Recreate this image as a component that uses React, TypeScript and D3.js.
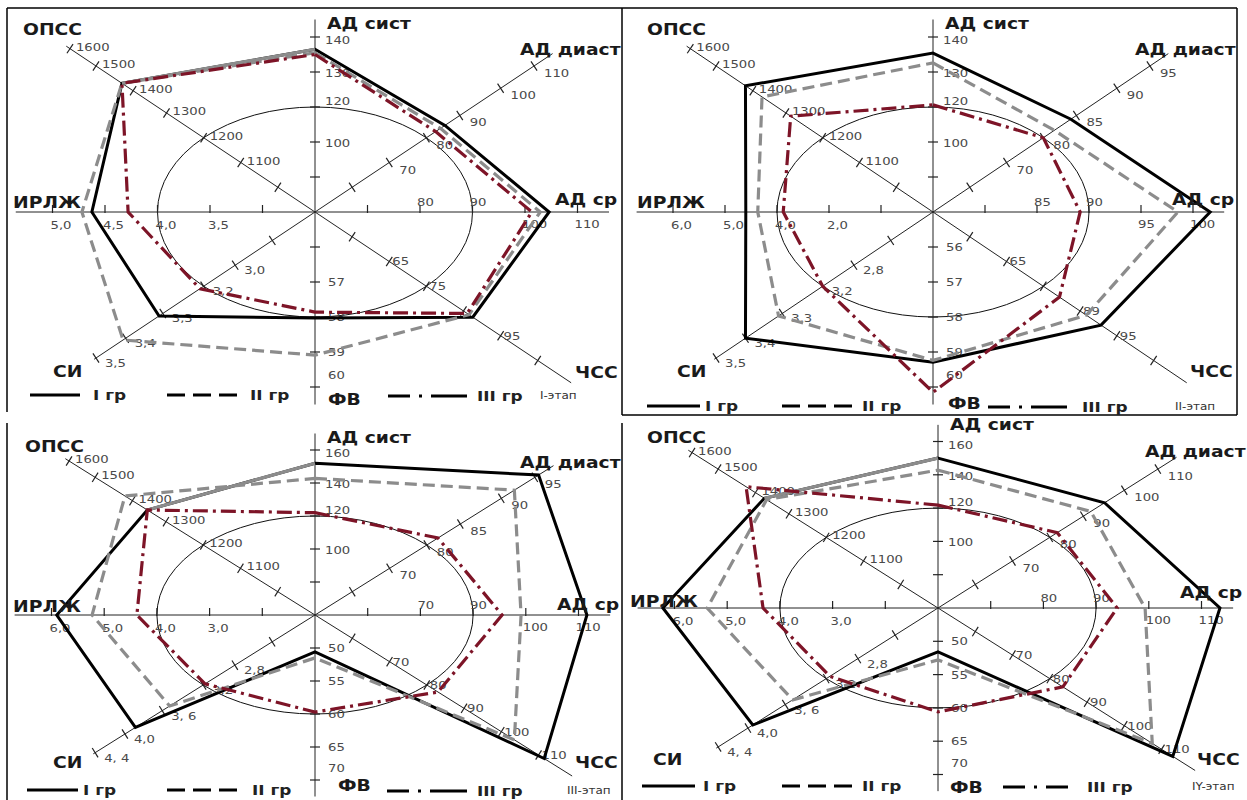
import React from "react";
import * as d3 from "d3";

// ---------- categories ----------
const axisNames = ["АД сист", "АД диаст", "АД ср", "ЧСС", "ФВ", "СИ", "ИРЛЖ", "ОПСС"];
const axisAnglesDeg = [90, 45, 0, -45, -90, -135, 180, 135];
const groupNames = ["I гр", "II гр", "III гр"];
const stageNames = ["I-этап", "II-этап", "III-этап", "IY-этап"];

// ---------- series values (radial chart units, reference circle = 3) ----------
// order: АД сист, АД диаст, АД ср, ЧСС, ФВ, СИ, ИРЛЖ, ОПСС
const stage1GroupI = [4.65, 3.5, 4.46, 4.25, 3.03, 4.2, 4.25, 5.2];
const stage1GroupII = [4.55, 3.38, 4.29, 4.15, 4.09, 5.17, 4.44, 5.2];
const stage1GroupIII = [4.5, 3.25, 4.13, 4.1, 2.86, 3.1, 3.56, 5.2];

const stage2GroupI = [4.54, 3.75, 5.33, 4.57, 4.29, 5.1, 3.6, 5.1];
const stage2GroupII = [4.26, 3.3, 4.71, 4.17, 4.24, 4.2, 3.37, 4.65];
const stage2GroupIII = [3.06, 3.0, 2.83, 3.44, 5.15, 3.0, 2.88, 3.87];

const stage3GroupI = [4.6, 6.0, 5.16, 6.15, 1.12, 4.82, 4.9, 4.5];
const stage3GroupII = [4.14, 5.35, 3.91, 5.35, 1.3, 3.9, 4.23, 5.1];
const stage3GroupIII = [3.1, 3.3, 3.55, 3.3, 2.94, 2.95, 3.38, 4.5];

const stage4GroupI = [4.5, 4.47, 5.35, 6.3, 1.32, 4.97, 5.22, 4.66];
const stage4GroupII = [4.14, 4.1, 3.93, 5.75, 1.56, 3.9, 4.38, 4.6];
const stage4GroupIII = [3.09, 3.2, 3.4, 3.35, 3.12, 2.9, 3.32, 5.15];

// ---------- ticks ----------
const tickPositions = [
  [1, 2, 3, 4, 5],
  [1, 2, 3, 3.9, 5, 5.9],
  [1, 2, 3, 4, 5],
  [1, 2, 3, 4, 5, 6],
  [1, 2, 3, 4, 5],
  [1.15, 2.15, 3, 4.1, 5.1, 5.9],
  [1, 2, 3, 4, 5],
  [1, 2, 3, 4, 4.9, 5.9, 6.6],
];
const labelPositions = [
  [5, 4, 3.2, 2],
  [2, 3, 3.9, 5, 5.9],
  [2, 3, 4, 5],
  [2, 3, 4, 5, 6],
  [1, 2, 3, 4, 5],
  [2.15, 3, 4.1, 5.1, 5.9],
  [2, 3, 4, 5],
  [2, 3, 4, 4.9, 5.9, 6.6],
];
const opssLabels = ["1100", "1200", "1300", "1400", "1500", "1600"];
const stage1Labels = [
  ["140", "130", "120", "100"],
  ["70", "80", "90", "100", "110"],
  ["80", "90", "100", "110"],
  ["65", "75", "", "95", ""],
  ["", "57", "58", "59", "60"],
  ["3,0", "3,2", "3,3", "3,4", "3,5"],
  ["3,5", "4,0", "4,5", "5,0"],
  opssLabels,
];
const stage2Labels = [
  ["140", "130", "120", "100"],
  ["70", "80", "85", "90", "95"],
  ["85", "90", "95", "100"],
  ["65", "", "89", "95", ""],
  ["56", "57", "58", "59", "60"],
  ["2,8", "3,2", "3,3", "3,4", "3,5"],
  ["2,0", "4,0", "5,0", "6,0"],
  opssLabels,
];
const stage3Labels = [
  ["160", "140", "120", "100"],
  ["70", "80", "85", "90", "95"],
  ["70", "90", "100", "110"],
  ["70", "80", "90", "100", "110"],
  ["50", "55", "60", "65", "70"],
  ["2,8", "3,2", "3, 6", "4,0", "4, 4"],
  ["3,0", "4,0", "5,0", "6,0"],
  opssLabels,
];
const stage4Labels = [
  ["160", "140", "120", "100"],
  ["70", "80", "90", "100", "110"],
  ["80", "90", "100", "110"],
  ["70", "80", "90", "100", "110"],
  ["50", "55", "60", "65", "70"],
  ["2,8", "3,2", "3, 6", "4,0", "4, 4"],
  ["3,0", "4,0", "5,0", "6,0"],
  opssLabels,
];

const stageSeries = [
  [stage1GroupI, stage1GroupII, stage1GroupIII],
  [stage2GroupI, stage2GroupII, stage2GroupIII],
  [stage3GroupI, stage3GroupII, stage3GroupIII],
  [stage4GroupI, stage4GroupII, stage4GroupIII],
];
const stageLabels = [stage1Labels, stage2Labels, stage3Labels, stage4Labels];

// ---------- layout (not data) ----------
const axisExtent = [5.5, 6.4, 5.6, 6.9, 5.5, 5.95, 5.7, 6.7];
const panels = [
  {
    cx: 315, cy: 212, ux: 52.5, uy: 35, left: 7, legendY: 395, grayTopEdge: true,
    titles: [[12, -183], [205, -157], [240, -7], [260, 166], [13, 193], [-262, 165], [-302, -4], [-292, -177]],
    legend: [23, 73, 86, 160, 231, 243, 381, 460, 470, 533],
  },
  {
    cx: 933, cy: 212, ux: 52, uy: 35, left: 623, legendY: 406, grayTopEdge: false,
    titles: [[12, -183], [202, -157], [239, -7], [257, 165], [15, 197], [-256, 165], [-296, -4], [-286, -177]],
    legend: [24, 77, 82, 159, 232, 239, 365, 444, 459, 552],
  },
  {
    cx: 315, cy: 615, ux: 52.7, uy: 33, left: 7, legendY: 790, grayTopEdge: true,
    titles: [[12, -172], [205, -147], [242, -5], [260, 153], [23, 176], [-262, 153], [-302, -3], [-290, -163]],
    legend: [20, 71, 76, 160, 230, 245, 380, 460, 470, 560],
  },
  {
    cx: 938, cy: 608, ux: 52.7, uy: 33.3, left: 623, legendY: 786, grayTopEdge: true,
    titles: [[12, -178], [207, -151], [242, -10], [259, 157], [12, 185], [-285, 157], [-308, -1], [-291, -165]],
    legend: [19, 72, 80, 159, 232, 239, 380, 445, 464, 569],
  },
];

const BLACK = "#000000";
const GRAY = "#8c8c8c";
const RED = "#7d1427";
const seriesStyle = [
  { stroke: BLACK, dash: "none", width: 3 },
  { stroke: GRAY, dash: "12,6", width: 3.2 },
  { stroke: RED, dash: "15,5,3,5", width: 3.2 },
];
const FONT = "'DejaVu Sans', Verdana, sans-serif";
const SX = 1.2;

function T(props: {
  x: number; y: number; size: number; weight?: string; fill?: string;
  anchor?: string; children: React.ReactNode; sx?: number;
}) {
  const { x, y, size, weight = "normal", fill = "#222", anchor = "start", children, sx = SX } = props;
  return (
    <text
      transform={`translate(${x},${y}) scale(${sx},1)`}
      fontSize={size}
      fontWeight={weight}
      fill={fill}
      textAnchor={anchor}
      fontFamily={FONT}
    >
      {children}
    </text>
  );
}

function labelOffset(axis: number, r: number): [number, number] {
  switch (axis) {
    case 0: return [10, r >= 5 ? 7 : 5];
    case 1: return [10, 11];
    case 2: return [-3, r <= 3 ? -6 : 16];
    case 3: return [3, 4];
    case 4: return [13, r >= 5 ? -8 : 4];
    case 5: return [9, 9];
    case 6: return [-2, 17];
    default: return [6, 2];
  }
}

function Panel({ idx }: { idx: number }) {
  const cfg = panels[idx];
  const series = stageSeries[idx];
  const labels = stageLabels[idx];
  const xs = d3.scaleLinear().domain([0, 1]).range([cfg.cx, cfg.cx + cfg.ux]);
  const ys = d3.scaleLinear().domain([0, 1]).range([cfg.cy, cfg.cy - cfg.uy]);
  const ang = axisAnglesDeg.map((a) => (a * Math.PI) / 180);
  const pt = (i: number, r: number): [number, number] => [
    xs(r * Math.cos(ang[i])),
    ys(r * Math.sin(ang[i])),
  ];
  const closed = d3.line<[number, number]>().curve(d3.curveLinearClosed);
  const open = d3.line<[number, number]>();

  const elements: React.ReactNode[] = [];

  // reference circle (r = 3)
  elements.push(
    <ellipse key="circle" cx={cfg.cx} cy={cfg.cy} rx={xs(3) - cfg.cx} ry={cfg.cy - ys(3)}
      fill="none" stroke="#111" strokeWidth={1} />
  );

  // axes, ticks, tick labels
  axisNames.forEach((_, i) => {
    const [ex, ey] = pt(i, axisExtent[i]);
    elements.push(
      <line key={`ax${i}`} x1={cfg.cx} y1={cfg.cy} x2={ex} y2={ey} stroke="#222" strokeWidth={1} />
    );
    const dxs = cfg.ux * Math.cos(ang[i]);
    const dys = -cfg.uy * Math.sin(ang[i]);
    const len = Math.hypot(dxs, dys);
    const px = -dys / len, py = dxs / len;
    tickPositions[i].forEach((r, k) => {
      const [tx, ty] = pt(i, r);
      if (i === 2 || i === 6) {
        elements.push(<line key={`t${i}-${k}`} x1={tx} y1={ty - 7} x2={tx} y2={ty + 1} stroke="#222" strokeWidth={1.2} />);
      } else {
        const h = i === 0 || i === 4 ? 5 : 5.5;
        elements.push(
          <line key={`t${i}-${k}`} x1={tx - px * h} y1={ty - py * h} x2={tx + px * h} y2={ty + py * h}
            stroke="#222" strokeWidth={1.2} />
        );
      }
    });
    labelPositions[i].forEach((r, k) => {
      const txt = labels[i][k];
      if (!txt) return;
      const [tx, ty] = pt(i, r);
      const [ox, oy] = labelOffset(i, r);
      elements.push(
        <T key={`l${i}-${k}`} x={tx + ox} y={ty + oy} size={11} fill="#4a4a4a">{txt}</T>
      );
    });
  });

  // series polygons
  series.forEach((vals, s) => {
    const pts = vals.map((v, i) => pt(i, v));
    const st = seriesStyle[s];
    elements.push(
      <path key={`s${s}`} d={closed(pts) || ""} fill="none" stroke={st.stroke}
        strokeWidth={st.width} strokeDasharray={st.dash} strokeLinejoin="miter" />
    );
    if (s === 0 && cfg.grayTopEdge) {
      elements.push(
        <path key="s0gray" d={open([pts[7], pts[0]]) || ""} fill="none" stroke={GRAY} strokeWidth={3.2} />
      );
    }
  });

  // axis titles
  axisNames.forEach((name, i) => {
    const [ox, oy] = cfg.titles[i];
    elements.push(
      <T key={`title${i}`} x={cfg.cx + ox} y={cfg.cy + oy} size={15} weight="bold" fill="#1a1a1a" sx={1.25}>{name}</T>
    );
  });

  // legend
  const L = cfg.legend.map((v) => v + cfg.left);
  const ly = cfg.legendY;
  elements.push(<line key="lg1" x1={L[0]} y1={ly} x2={L[1]} y2={ly} stroke={BLACK} strokeWidth={3} />);
  elements.push(<T key="lt1" x={L[2]} y={ly + 5} size={13.5} weight="bold" sx={1.25}>{groupNames[0]}</T>);
  elements.push(<line key="lg2" x1={L[3]} y1={ly} x2={L[4]} y2={ly} stroke={BLACK} strokeWidth={3} strokeDasharray="18,8" />);
  elements.push(<T key="lt2" x={L[5]} y={ly + 5} size={13.5} weight="bold" sx={1.25}>{groupNames[1]}</T>);
  elements.push(<line key="lg3" x1={L[6]} y1={ly + 1} x2={L[7]} y2={ly + 1} stroke={BLACK} strokeWidth={3} strokeDasharray="22,9,3,9,40" />);
  elements.push(<T key="lt3" x={L[8]} y={ly + 6} size={13.5} weight="bold" sx={1.25}>{groupNames[2]}</T>);
  elements.push(<T key="stage" x={L[9]} y={ly + 4} size={10} fill="#333" sx={1.2}>{stageNames[idx]}</T>);

  return <g>{elements}</g>;
}

export default function App() {
  const borders: [number, number, number, number][] = [
    [7, 8, 1237, 8],
    [7, 8, 7, 412],
    [622, 8, 622, 415],
    [1237, 8, 1237, 415],
    [622, 415, 1237, 415],
    [7, 423, 7, 800],
    [622, 423, 622, 800],
  ];
  return (
    <svg width={1247} height={800} style={{ position: "absolute", left: 0, top: 0, background: "#fff" }}>
      <rect x={0} y={0} width={1247} height={800} fill="#fff" />
      {borders.map((b, i) => (
        <line key={i} x1={b[0]} y1={b[1]} x2={b[2]} y2={b[3]} stroke="#000" strokeWidth={1.5} />
      ))}
      {panels.map((_, i) => (
        <Panel key={i} idx={i} />
      ))}
    </svg>
  );
}
